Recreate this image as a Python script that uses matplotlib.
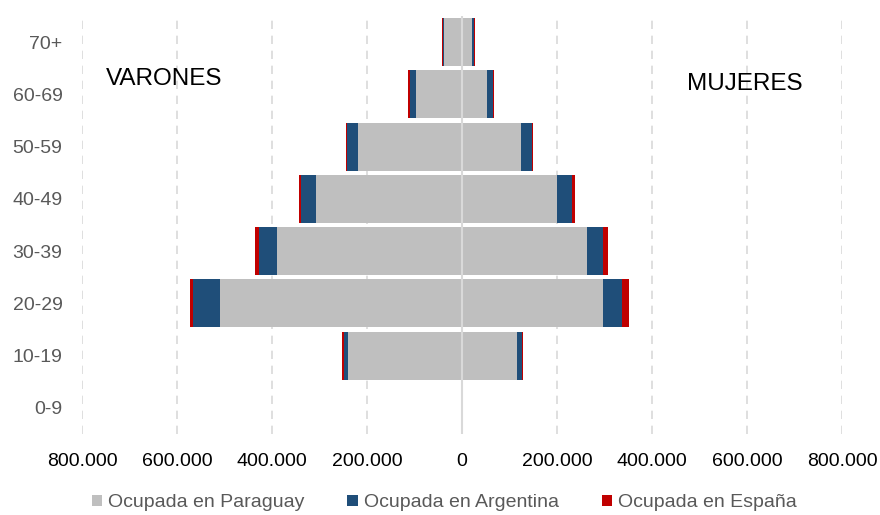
import numpy as np
import matplotlib.pyplot as plt
from matplotlib.ticker import FuncFormatter

plt.rcParams['font.family'] = ['Liberation Sans', 'DejaVu Sans']

grupos = ['0-9', '10-19', '20-29', '30-39', '40-49', '50-59', '60-69', '70+']

# varones (se dibujan a la izquierda)
h_paraguay = [0, 239000, 509000, 389000, 307000, 218000, 97500, 37000]
h_argentina = [0, 10000, 57000, 38000, 33000, 24000, 12600, 4000]
h_espana = [0, 3500, 6000, 8400, 3000, 3000, 3500, 1000]

# mujeres (a la derecha)
m_paraguay = [0, 116000, 296000, 262500, 200500, 125000, 53000, 21000]
m_argentina = [0, 10500, 41000, 34000, 31000, 22500, 12000, 5000]
m_espana = [0, 2000, 14000, 10500, 6300, 3000, 2000, 2000]

ticks = [-800000, -600000, -400000, -200000, 0, 200000, 400000, 600000, 800000]

c_par = '#BFBFBF'
c_arg = '#1F4E79'
c_esp = '#C00000'
gris_txt = '#595959'

fig = plt.figure(figsize=(8.8, 5.15), dpi=100)
ax = fig.add_axes([0.0932, 0.1573, 0.8636, 0.8117])

y = np.arange(len(grupos))
alto = 0.92

hp = -np.array(h_paraguay)
ha = -np.array(h_argentina)
he = -np.array(h_espana)
mp = np.array(m_paraguay)
ma = np.array(m_argentina)
me = np.array(m_espana)

ax.barh(y, hp, height=alto, color=c_par, label='Ocupada en Paraguay', zorder=2)
ax.barh(y, ha, left=hp, height=alto, color=c_arg, label='Ocupada en Argentina', zorder=2)
ax.barh(y, he, left=hp + ha, height=alto, color=c_esp, label='Ocupada en España', zorder=2)
ax.barh(y, mp, height=alto, color=c_par, zorder=2)
ax.barh(y, ma, left=mp, height=alto, color=c_arg, zorder=2)
ax.barh(y, me, left=mp + ma, height=alto, color=c_esp, zorder=2)

ax.axvline(0, color='#D9D9D9', lw=1.5, zorder=3)

ax.set_xlim(-800000, 800000)
ax.set_ylim(-0.5, len(grupos) - 0.5)
ax.set_xticks(ticks)
ax.xaxis.set_major_formatter(FuncFormatter(lambda v, p: f'{abs(int(v)):,}'.replace(',', '.')))
ax.set_yticks(y)
ax.set_yticklabels(grupos)
ax.tick_params(axis='both', length=0, labelsize=14, colors=gris_txt)
ax.tick_params(axis='x', pad=14, colors='black')
ax.tick_params(axis='y', pad=14)

for t in ticks:
    if t != 0:
        ax.axvline(t, color='#D9D9D9', lw=1.2, ls=(0, (5, 4)), zorder=1)

for s in ax.spines.values():
    s.set_visible(False)

ax.text(-750000, 6.3, 'VARONES', fontsize=17.5, color='black', va='center', ha='left')
ax.text(474000, 6.2, 'MUJERES', fontsize=17.5, color='black', va='center', ha='left')

fig.legend(loc='lower center', bbox_to_anchor=(0.505, -0.027), ncol=3, frameon=False,
           handlelength=0.55, handleheight=0.55, handletextpad=0.3, columnspacing=2.2,
           fontsize=14, labelcolor=gris_txt)

fig.savefig('out.png', dpi=100)
